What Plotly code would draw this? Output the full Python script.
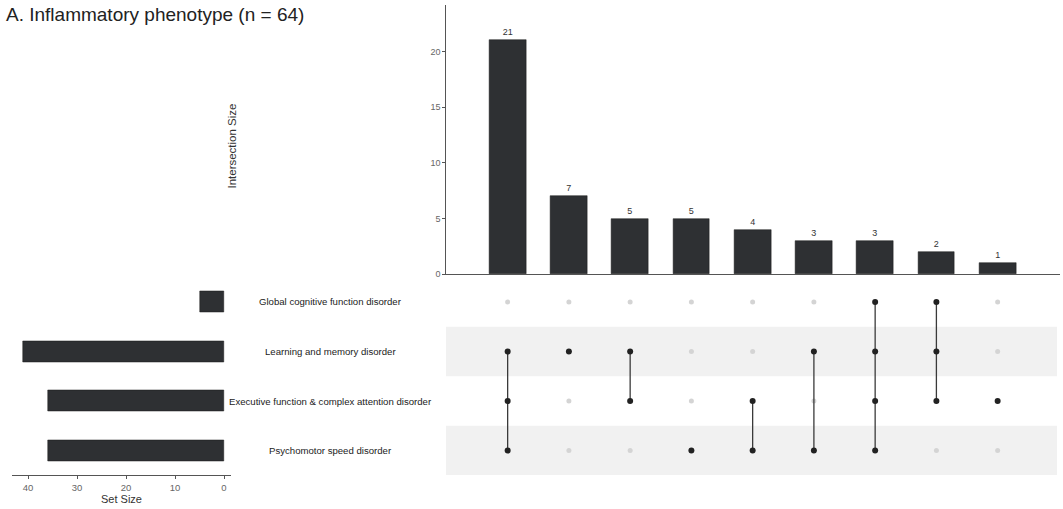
import plotly.graph_objects as go

W, H = 1063, 509

title_text = "A. Inflammatory phenotype (n = 64)"
set_names = [
    "Global cognitive function disorder",
    "Learning and memory disorder",
    "Executive function & complex attention disorder",
    "Psychomotor speed disorder",
]
set_sizes = [5, 41, 36, 36]
intersection_sizes = [21, 7, 5, 5, 4, 3, 3, 2, 1]
# membership of each intersection (indices into set_names)
intersection_members = [
    [1, 2, 3],
    [1],
    [1, 2],
    [3],
    [2, 3],
    [1, 3],
    [0, 1, 2, 3],
    [0, 1, 2],
    [2],
]
top_ticks = [0, 5, 10, 15, 20]
set_ticks = [0, 10, 20, 30, 40]

BAR = "#2e3033"
DOT = "#222222"
INACT = "#d4d4d4"
AX = "#555555"
FONT = "Liberation Sans, Arial, sans-serif"

def px_x(p):
    return p / W

def px_y(p):
    return 1 - p / H

n_int = len(intersection_sizes)
cols = list(range(1, n_int + 1))
# row y-values: first set at top
row_y = {i: len(set_names) - 1 - i for i in range(len(set_names))}

fig = go.Figure()

# Intersection size bars
fig.add_trace(go.Bar(
    x=cols, y=intersection_sizes, width=0.6,
    marker=dict(color=BAR, line=dict(color="#1a1a1a", width=0.5)),
    text=[str(v) for v in intersection_sizes], textposition="outside",
    textfont=dict(size=9, color="#333333", family=FONT),
    cliponaxis=False, xaxis="x", yaxis="y", showlegend=False,
))

# Matrix: inactive dots
inx, iny = [], []
for c, mem in zip(cols, intersection_members):
    for s in range(len(set_names)):
        if s not in mem:
            inx.append(c)
            iny.append(row_y[s])
fig.add_trace(go.Scatter(
    x=inx, y=iny, mode="markers",
    marker=dict(color=INACT, size=5),
    xaxis="x2", yaxis="y2", showlegend=False,
))

# Matrix: connecting lines
for c, mem in zip(cols, intersection_members):
    ys = [row_y[s] for s in mem]
    if len(ys) > 1:
        fig.add_trace(go.Scatter(
            x=[c, c], y=[min(ys), max(ys)], mode="lines",
            line=dict(color="#3a3a3a", width=1.3),
            xaxis="x2", yaxis="y2", showlegend=False,
        ))

# Matrix: active dots
ax_, ay_ = [], []
for c, mem in zip(cols, intersection_members):
    for s in mem:
        ax_.append(c)
        ay_.append(row_y[s])
fig.add_trace(go.Scatter(
    x=ax_, y=ay_, mode="markers",
    marker=dict(color=DOT, size=6),
    xaxis="x2", yaxis="y2", showlegend=False,
))

# Set size bars
fig.add_trace(go.Bar(
    x=set_sizes, y=[row_y[i] for i in range(len(set_names))],
    orientation="h", width=0.42,
    marker=dict(color=BAR, line=dict(color="#1a1a1a", width=0.5)),
    xaxis="x3", yaxis="y3", showlegend=False,
))

shapes = []
# shaded bands behind rows 2 and 4
for s in [1, 3]:
    shapes.append(dict(
        type="rect", xref="paper", yref="y2",
        x0=px_x(446), x1=px_x(1057), y0=row_y[s] - 0.5, y1=row_y[s] + 0.5,
        fillcolor="#f1f1f1", line=dict(width=0), layer="below",
    ))

annotations = [
    dict(text=title_text, x=px_x(4), y=px_y(15), xref="paper", yref="paper",
         xanchor="left", yanchor="middle", showarrow=False,
         font=dict(size=19, color="#222222", family=FONT)),
    dict(text="Intersection Size", x=px_x(232), y=px_y(148), xref="paper", yref="paper",
         xanchor="center", yanchor="middle", textangle=-90, showarrow=False,
         font=dict(size=11.5, color="#333333", family=FONT)),
]
for i, name in enumerate(set_names):
    annotations.append(dict(
        text=name, x=px_x(330), y=row_y[i], xref="paper", yref="y2",
        xanchor="center", yanchor="middle", showarrow=False,
        font=dict(size=9.6, color="#222222", family=FONT)))

x0_px, step_px = 446.4, 61.25
x_range = [0, (1060 - x0_px) / step_px]
set0_px, set_step = 224, 4.9
fig.update_layout(
    width=W, height=H, margin=dict(l=0, r=0, t=0, b=0),
    paper_bgcolor="white", plot_bgcolor="rgba(0,0,0,0)",
    font=dict(family=FONT, size=9, color=AX),
    bargap=0,
    shapes=shapes, annotations=annotations,
    xaxis=dict(domain=[px_x(x0_px), px_x(1060)], range=x_range, showticklabels=False,
               showline=True, linecolor=AX, linewidth=1, ticks="", showgrid=False,
               zeroline=False, anchor="y"),
    yaxis=dict(domain=[px_y(277), px_y(5)], range=[0, (277 - 5) / 11.25],
               tickvals=top_ticks, ticks="outside", ticklen=3, tickcolor=AX,
               showline=True, linecolor=AX, linewidth=1, showgrid=False, zeroline=False,
               tickfont=dict(size=9, color="#666666"), anchor="x"),
    xaxis2=dict(domain=[px_x(x0_px), px_x(1060)], range=x_range, visible=False, anchor="y2"),
    yaxis2=dict(domain=[px_y(480), px_y(280)], range=[-0.5, 3.5], visible=False, anchor="x2"),
    xaxis3=dict(domain=[px_x(12), px_x(231)],
                range=[(set0_px - 12) / set_step, (set0_px - 231) / set_step],
                tickvals=set_ticks, ticks="outside", ticklen=3, tickcolor=AX,
                showline=True, linecolor=AX, linewidth=1, showgrid=False, zeroline=False,
                tickfont=dict(size=9.5, color="#666666"),
                title=dict(text="Set Size", font=dict(size=11, color="#333333"), standoff=3),
                anchor="y3"),
    yaxis3=dict(domain=[px_y(480), px_y(280)], range=[-0.5, 3.5], visible=False, anchor="x3"),
)

fig.write_html("out.html")
